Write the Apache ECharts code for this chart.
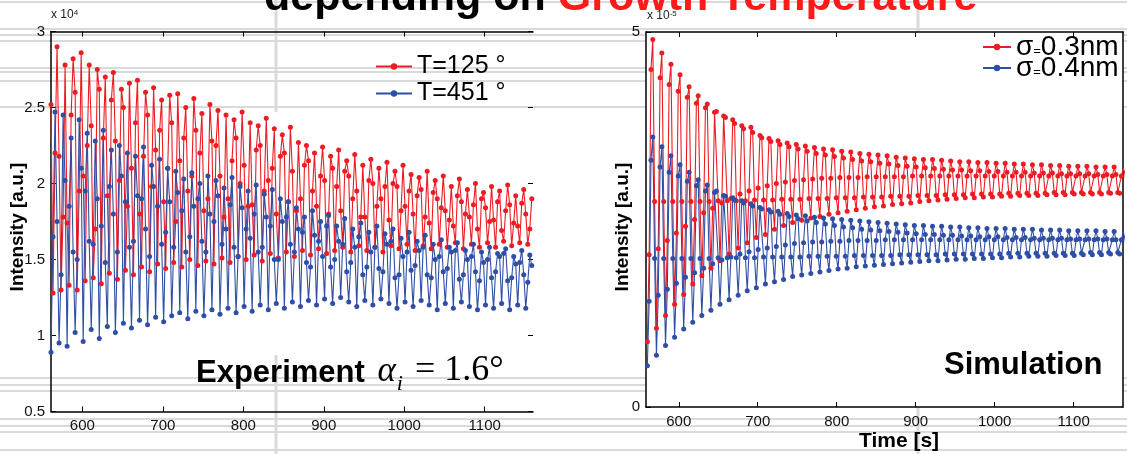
<!DOCTYPE html>
<html>
<head>
<meta charset="utf-8">
<script src="https://cdn.jsdelivr.net/npm/echarts@6/dist/echarts.min.js"></script>
<style>
  html, body { margin: 0; padding: 0; background: #fff; }
  #chart { width: 1127px; height: 454px; }
</style>
</head>
<body>
<div id="chart"></div>
<script>
// ---- Experiment: RHEED intensity (x 10^4), sampled every 2.5 s from t = 561 s ----
const expStart = 561;
const expStep = 2.5;
const expT125 = [
  2.52,1.28,2.20,2.90, 2.18,1.30,1.78,2.78, 1.74,1.33,2.45,2.82, 2.60,1.30,1.95,2.86,
  2.05,1.36,2.25,2.78, 2.38,1.38,1.70,2.75, 2.62,1.34,2.30,2.70, 1.92,1.41,2.55,2.73,
  2.28,1.37,2.02,2.62, 2.50,1.43,1.85,2.66, 2.10,1.40,2.40,2.68, 1.80,1.45,2.18,2.60,
  2.45,1.42,1.98,2.63, 2.22,1.47,2.35,2.55, 1.88,1.44,2.10,2.58, 2.40,1.48,1.75,2.59,
  2.15,1.45,2.30,2.50, 1.95,1.50,2.05,2.56, 2.35,1.46,2.20,2.46, 1.82,1.49,1.90,2.52,
  2.28,1.47,2.25,2.48, 2.05,1.51,1.78,2.45, 1.90,1.48,2.15,2.42, 2.30,1.52,2.00,2.47,
  2.12,1.50,1.85,2.40, 1.86,1.53,2.22,2.38, 2.25,1.49,1.95,2.43, 2.02,1.54,2.10,2.36,
  1.80,1.51,2.18,2.32, 2.20,1.55,1.88,2.37, 2.08,1.52,1.82,2.27, 1.90,1.56,2.12,2.25,
  2.15,1.53,1.95,2.20, 1.85,1.57,2.05,2.24, 2.02,1.54,1.80,2.18, 2.10,1.56,1.98,2.22,
  1.82,1.58,2.08,2.15, 2.05,1.55,1.90,2.19, 1.95,1.59,1.78,2.12, 1.78,1.56,2.02,2.16,
  2.00,1.58,1.85,2.10, 1.90,1.55,1.98,2.14, 1.76,1.59,2.00,2.08, 1.98,1.57,1.82,2.12,
  1.85,1.60,1.95,2.06, 1.80,1.56,1.92,2.04, 1.96,1.59,1.78,2.08, 1.74,1.57,1.94,2.02,
  1.90,1.60,1.84,2.05, 1.82,1.58,1.76,1.98, 1.72,1.61,1.92,2.03, 1.88,1.57,1.80,1.96,
  1.78,1.60,1.86,2.00, 1.70,1.58,1.90,1.94, 1.84,1.61,1.75,1.98, 1.76,1.58,1.88,1.95,
  1.69,1.62,1.82,1.99, 1.86,1.59,1.74,1.92, 1.72,1.61,1.87,1.96, 1.80,1.60,1.70,1.90
];
const expT451 = [
  0.89,1.65,2.47,1.75, 0.95,1.40,2.45,2.02, 0.93,1.85,2.30,1.55, 1.02,1.50,2.42,2.10,
  0.96,1.95,2.33,1.62, 1.04,1.60,2.28,1.90, 0.98,1.72,2.35,1.48, 1.06,1.98,2.22,1.80,
  1.02,1.55,2.25,2.05, 1.08,1.88,2.20,1.58, 1.05,1.62,2.18,1.92, 1.10,1.90,2.24,1.70,
  1.07,1.52,2.12,1.98, 1.12,1.85,2.16,1.60, 1.09,1.68,2.10,1.88, 1.13,1.58,2.08,1.94,
  1.15,1.82,2.03,1.55, 1.11,1.65,2.07,1.85, 1.16,1.90,2.00,1.62, 1.13,1.55,2.05,1.80,
  1.17,1.75,2.02,1.92, 1.14,1.60,1.97,1.70, 1.18,1.86,2.04,1.58, 1.15,1.52,1.98,1.84,
  1.19,1.70,1.95,1.64, 1.16,1.80,1.99,1.55, 1.20,1.58,1.93,1.78, 1.17,1.72,1.96,1.50,
  1.21,1.50,1.90,1.75, 1.18,1.78,1.88,1.60, 1.22,1.55,1.84,1.70, 1.19,1.68,1.78,1.48,
  1.23,1.45,1.82,1.66, 1.20,1.62,1.75,1.52, 1.24,1.72,1.79,1.45, 1.21,1.50,1.72,1.62,
  1.25,1.60,1.77,1.42, 1.22,1.48,1.70,1.58, 1.19,1.65,1.74,1.40, 1.23,1.45,1.68,1.55,
  1.20,1.58,1.72,1.44, 1.24,1.42,1.67,1.60, 1.21,1.62,1.70,1.38, 1.18,1.40,1.64,1.52,
  1.22,1.55,1.68,1.43, 1.19,1.46,1.62,1.56, 1.23,1.58,1.66,1.40, 1.20,1.38,1.60,1.50,
  1.17,1.52,1.63,1.42, 1.21,1.44,1.58,1.55, 1.18,1.56,1.61,1.37, 1.22,1.40,1.56,1.50,
  1.19,1.52,1.60,1.42, 1.17,1.36,1.55,1.48, 1.20,1.50,1.58,1.38, 1.18,1.42,1.54,1.52,
  1.21,1.54,1.57,1.36, 1.17,1.38,1.52,1.47, 1.20,1.48,1.56,1.40, 1.18,1.35,1.53,1.46
];

// ---- Simulation: intensity (x 10^-5), sampled every 2.3 s from t = 560.2 s ----
const simStart = 560.2;
const simStep = 2.3;
const sim03 = [
  0.87,2.03,4.50,4.90,2.74, 1.05,2.11,4.39,4.72,2.74, 1.22,2.22,4.30,4.57,2.74, 1.37,2.32,4.21,4.43,2.74,
  1.50,2.41,4.13,4.27,2.74, 1.64,2.50,4.05,4.15,2.74, 1.75,2.59,3.99,4.04,2.74, 1.85,2.65,3.93,3.94,2.75,
  1.95,2.72,3.88,3.86,2.75, 2.04,2.78,3.83,3.78,2.75, 2.12,2.84,3.75,3.71,2.75, 2.19,2.88,3.73,3.66,2.76,
  2.26,2.92,3.62,3.59,2.76, 2.30,2.95,3.58,3.54,2.76, 2.37,2.98,3.55,3.50,2.77, 2.42,3.00,3.52,3.47,2.77,
  2.46,3.02,3.50,3.44,2.77, 2.49,3.03,3.48,3.41,2.78, 2.52,3.04,3.46,3.38,2.78, 2.54,3.05,3.44,3.36,2.78,
  2.57,3.05,3.43,3.34,2.79, 2.59,3.06,3.41,3.32,2.79, 2.61,3.06,3.40,3.30,2.79, 2.63,3.06,3.38,3.28,2.80,
  2.65,3.07,3.37,3.27,2.80, 2.67,3.07,3.36,3.25,2.80, 2.68,3.07,3.35,3.24,2.81, 2.70,3.07,3.33,3.22,2.81,
  2.71,3.07,3.32,3.21,2.81, 2.72,3.08,3.31,3.20,2.82, 2.74,3.08,3.30,3.19,2.82, 2.75,3.08,3.30,3.18,2.82,
  2.76,3.08,3.29,3.17,2.83, 2.77,3.08,3.28,3.16,2.83, 2.78,3.08,3.27,3.16,2.83, 2.79,3.08,3.27,3.15,2.84,
  2.79,3.08,3.26,3.15,2.84, 2.80,3.08,3.26,3.14,2.84, 2.80,3.08,3.25,3.14,2.84, 2.81,3.08,3.25,3.13,2.85,
  2.81,3.08,3.24,3.13,2.85, 2.82,3.08,3.24,3.13,2.85, 2.82,3.08,3.23,3.12,2.85, 2.82,3.08,3.23,3.12,2.85,
  2.83,3.08,3.22,3.12,2.86, 2.83,3.08,3.22,3.11,2.86, 2.83,3.08,3.21,3.11,2.86, 2.84,3.08,3.21,3.11,2.86,
  2.84,3.08,3.21,3.11,2.86, 2.84,3.08,3.20,3.10,2.86, 2.84,3.08,3.20,3.10,2.86, 2.85,3.08,3.20,3.10,2.86,
  2.85,3.08,3.19,3.10,2.87
];
const sim04 = [
  0.55,1.41,3.29,3.60,1.98, 0.69,1.49,3.20,3.47,1.98, 0.82,1.57,3.13,3.35,1.98, 0.93,1.65,3.08,3.23,1.98,
  1.04,1.73,3.01,3.13,1.98, 1.13,1.79,2.95,3.03,1.98, 1.22,1.85,2.88,2.96,1.98, 1.29,1.91,2.86,2.88,1.99,
  1.37,1.96,2.82,2.81,1.99, 1.43,2.00,2.79,2.76,1.99, 1.49,2.04,2.75,2.72,1.99, 1.55,2.07,2.71,2.68,1.99,
  1.59,2.10,2.66,2.64,2.00, 1.64,2.12,2.63,2.60,2.00, 1.67,2.14,2.61,2.57,2.00, 1.70,2.16,2.58,2.54,2.00,
  1.74,2.18,2.56,2.51,2.00, 1.76,2.19,2.55,2.48,2.01, 1.78,2.20,2.53,2.46,2.01, 1.80,2.20,2.52,2.44,2.01,
  1.82,2.21,2.51,2.42,2.01, 1.84,2.21,2.50,2.40,2.01, 1.85,2.22,2.49,2.39,2.02, 1.87,2.22,2.48,2.37,2.02,
  1.88,2.22,2.47,2.36,2.02, 1.89,2.22,2.46,2.35,2.02, 1.90,2.23,2.45,2.34,2.02, 1.91,2.23,2.44,2.33,2.03,
  1.92,2.23,2.43,2.32,2.03, 1.93,2.23,2.42,2.31,2.03, 1.94,2.23,2.42,2.30,2.03, 1.95,2.23,2.41,2.30,2.03,
  1.95,2.23,2.41,2.29,2.04, 1.96,2.23,2.40,2.29,2.04, 1.97,2.23,2.40,2.28,2.04, 1.97,2.23,2.39,2.28,2.04,
  1.98,2.23,2.39,2.27,2.04, 1.98,2.23,2.38,2.27,2.04, 1.99,2.23,2.38,2.27,2.04, 1.99,2.23,2.38,2.26,2.05,
  2.00,2.23,2.37,2.26,2.05, 2.00,2.23,2.37,2.26,2.05, 2.01,2.23,2.37,2.25,2.05, 2.01,2.23,2.36,2.25,2.05,
  2.01,2.23,2.36,2.25,2.05, 2.02,2.23,2.36,2.25,2.05, 2.02,2.23,2.35,2.24,2.05, 2.02,2.23,2.35,2.24,2.05,
  2.03,2.23,2.35,2.24,2.06, 2.03,2.23,2.35,2.24,2.06, 2.03,2.23,2.34,2.24,2.06, 2.04,2.23,2.34,2.23,2.06,
  2.04,2.23,2.34,2.23,2.06
];

// Axis ticks
const timeTicks = [600, 700, 800, 900, 1000, 1100];
const expRange = [561, 1160];
const simRange = [558.5, 1162.5];

const RED = '#ec1c24';
const BLUE = '#2f4ea5';
const FONT = '"Liberation Sans", Arial, sans-serif';
const SERIF = '"Liberation Serif", "DejaVu Serif", serif';

function sampled(start, step, values) {
  return values.map((v, i) => [start + i * step, v]);
}

function lineSeries(name, color, xIdx, yIdx, data) {
  return {
    name, type: 'line', xAxisIndex: xIdx, yAxisIndex: yIdx, data,
    symbol: 'circle', symbolSize: 5, showSymbol: true,
    lineStyle: { color, width: 1.1 },
    itemStyle: { color },
    emphasis: { disabled: true },
    animation: false, clip: true, z: 3
  };
}

function bottomX(grid, range) {
  return {
    type: 'value', gridIndex: grid, position: 'bottom', min: range[0], max: range[1],
    axisLine: { show: true, onZero: false, lineStyle: { color: '#000', width: 1.5 } },
    axisTick: { show: true, inside: true, length: 5, customValues: timeTicks, lineStyle: { color: '#000', width: 1 } },
    axisLabel: { show: true, customValues: timeTicks, formatter: v => String(v), fontSize: 15, color: '#111', fontFamily: FONT, margin: 7 },
    splitLine: { show: false }
  };
}
function topX(grid, range) {
  return {
    type: 'value', gridIndex: grid, position: 'top', min: range[0], max: range[1],
    axisLine: { show: true, onZero: false, lineStyle: { color: '#000', width: 1.5 } },
    axisTick: { show: true, inside: true, length: 5, customValues: timeTicks, lineStyle: { color: '#000', width: 1 } },
    axisLabel: { show: false },
    splitLine: { show: false }
  };
}

const bgLineColor = '#dadada';
const bgH = [2, 29, 35, 41, 68, 72, 81, 107, 378, 385, 391, 419, 426, 432, 450];
const bgGraphics = bgH.map(y => ({
  type: 'line', z: -10, silent: true,
  shape: { x1: 0, y1: y, x2: 1127, y2: y },
  style: { stroke: bgLineColor, lineWidth: 2 }
})).concat([
  { type: 'line', z: -10, silent: true, shape: { x1: 276, y1: 0, x2: 276, y2: 112 }, style: { stroke: bgLineColor, lineWidth: 3 } },
  { type: 'line', z: -10, silent: true, shape: { x1: 276, y1: 355, x2: 276, y2: 454 }, style: { stroke: bgLineColor, lineWidth: 3 } },
  { type: 'line', z: -10, silent: true, shape: { x1: 918, y1: 0, x2: 918, y2: 454 }, style: { stroke: bgLineColor, lineWidth: 3 } }
]);

const textGraphics = [
  { // heading line, clipped at the top of the page
    type: 'text', left: 264, top: -23, z: 10,
    style: {
      text: '{k|depending on }{r|Growth Temperature}',
      rich: {
        k: { fontSize: 43, fontWeight: 'bold', fontFamily: FONT, fill: '#000' },
        r: { fontSize: 43, fontWeight: 'bold', fontFamily: FONT, fill: '#ff1a1a' }
      }
    }
  },
  {
    type: 'text', left: 51, top: 9, z: 10,
    style: { text: '{a|x 10}{s|4}', rich: { a: { fontSize: 12, fontFamily: FONT, fill: '#222', verticalAlign: 'bottom' }, s: { fontSize: 8, fontFamily: FONT, fill: '#222', verticalAlign: 'top' } } }
  },
  {
    type: 'text', left: 647, top: 10, z: 10,
    style: { text: '{a|x 10}{s|-5}', rich: { a: { fontSize: 12, fontFamily: FONT, fill: '#222', verticalAlign: 'bottom' }, s: { fontSize: 8, fontFamily: FONT, fill: '#222', verticalAlign: 'top' } } }
  },
  {
    type: 'text', x: 18, y: 227, rotation: Math.PI / 2, z: 10,
    style: { text: 'Intensity [a.u.]', fontSize: 19, fontWeight: 'bold', fontFamily: FONT, fill: '#000', align: 'center', verticalAlign: 'middle' }
  },
  {
    type: 'text', x: 623, y: 227, rotation: Math.PI / 2, z: 10,
    style: { text: 'Intensity [a.u.]', fontSize: 19, fontWeight: 'bold', fontFamily: FONT, fill: '#000', align: 'center', verticalAlign: 'middle' }
  },
  {
    type: 'text', x: 899, y: 441, z: 10,
    style: { text: 'Time [s]', fontSize: 21, fontWeight: 'bold', fontFamily: FONT, fill: '#000', align: 'center', verticalAlign: 'middle' }
  },
  {
    type: 'text', left: 196, top: 353, z: 10,
    style: {
      text: '{b|Experiment }{a|α}{i|i}{m|= 1.6°}',
      rich: {
        b: { fontSize: 31, fontWeight: 'bold', fontFamily: FONT, fill: '#000', verticalAlign: 'bottom' },
        a: { fontSize: 35, fontStyle: 'italic', fontFamily: SERIF, fill: '#000', verticalAlign: 'bottom', padding: [0, 0, 0, 4] },
        i: { fontSize: 22, fontStyle: 'italic', fontFamily: SERIF, fill: '#000', verticalAlign: 'bottom', padding: [0, 12, -6, 1] },
        m: { fontSize: 36, fontFamily: SERIF, fill: '#000', verticalAlign: 'bottom' }
      }
    }
  },
  {
    type: 'text', left: 944, top: 350, z: 10,
    style: { text: 'Simulation', fontSize: 31, fontWeight: 'bold', fontFamily: FONT, fill: '#000' }
  }
];

const option = {
  backgroundColor: '#fff',
  animation: false,
  grid: [
    { left: 51, top: 31.5, width: 482, height: 380, show: false },
    { left: 646, top: 32, width: 477, height: 375, show: true, backgroundColor: '#fff', borderWidth: 0 }
  ],
  xAxis: [
    bottomX(0, expRange), topX(0, expRange),
    bottomX(1, simRange), topX(1, simRange)
  ],
  yAxis: [
    {
      type: 'value', gridIndex: 0, position: 'left', min: 0.5, max: 3, interval: 0.5,
      axisLine: { show: true, onZero: false, lineStyle: { color: '#000', width: 1.5 } },
      axisTick: { show: true, inside: true, length: 5, lineStyle: { color: '#000' } },
      axisLabel: { fontSize: 15, color: '#111', fontFamily: FONT, margin: 6 },
      splitLine: { show: false }
    },
    {
      type: 'value', gridIndex: 0, position: 'right', min: 0.5, max: 3, interval: 0.5,
      axisLine: { show: false },
      axisTick: { show: true, inside: true, length: 5, lineStyle: { color: '#000' } },
      axisLabel: { show: false },
      splitLine: { show: false }
    },
    {
      type: 'value', gridIndex: 1, position: 'left', min: 0, max: 5, interval: 5,
      axisLine: { show: true, onZero: false, lineStyle: { color: '#000', width: 1.5 } },
      axisTick: { show: true, inside: true, length: 5, lineStyle: { color: '#000' } },
      axisLabel: { fontSize: 15, color: '#111', fontFamily: FONT, margin: 6 },
      splitLine: { show: false }
    },
    {
      type: 'value', gridIndex: 1, position: 'right', min: 0, max: 5, interval: 5,
      axisLine: { show: true, onZero: false, lineStyle: { color: '#000', width: 1.5 } },
      axisTick: { show: false },
      axisLabel: { show: false },
      splitLine: { show: false }
    }
  ],
  legend: [
    {
      left: 375, top: 54, padding: 0, orient: 'vertical', selectedMode: false,
      data: ['T=125 °', 'T=451 °'],
      itemWidth: 36, itemHeight: 8, itemGap: 2,
      textStyle: { fontSize: 25, fontFamily: FONT, color: '#000', lineHeight: 24 }
    },
    {
      left: 982, top: 33, padding: 0, orient: 'vertical', selectedMode: false,
      data: ['σ=0.3nm', 'σ=0.4nm'],
      itemWidth: 28, itemHeight: 8, itemGap: -7,
      formatter: name => '{g|σ}{e|=}{g|' + name.slice(2) + '}',
      textStyle: {
        color: '#000',
        rich: {
          g: { fontSize: 28, fontFamily: FONT, color: '#000', lineHeight: 22 },
          e: { fontSize: 13, fontFamily: FONT, color: '#000', verticalAlign: 'bottom', lineHeight: 22 }
        }
      }
    }
  ],
  series: [
    lineSeries('T=125 °', RED, 0, 0, sampled(expStart, expStep, expT125)),
    lineSeries('T=451 °', BLUE, 0, 0, sampled(expStart, expStep, expT451)),
    lineSeries('σ=0.3nm', RED, 2, 2, sampled(simStart, simStep, sim03)),
    lineSeries('σ=0.4nm', BLUE, 2, 2, sampled(simStart, simStep, sim04))
  ],
  graphic: bgGraphics.concat(textGraphics)
};

const chart = echarts.init(document.getElementById('chart'), null, { renderer: 'canvas' });
chart.setOption(option);
</script>
</body>
</html>
